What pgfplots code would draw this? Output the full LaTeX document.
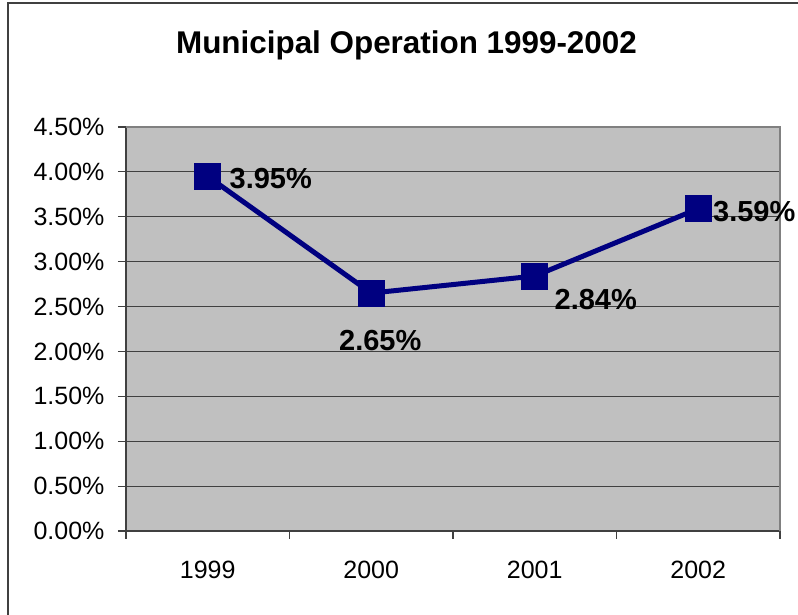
\documentclass[border=0pt]{standalone}
\usepackage{fontspec}
\setmainfont{Liberation Sans}
\usepackage{pgfplots}
\pgfplotsset{compat=1.18}
\usepackage{pgfplotstable}
\definecolor{navy}{HTML}{000080}
\definecolor{plotgray}{HTML}{C0C0C0}

\pgfplotstableread{
x y dx dy
0 3.95 63 -2
1 2.65 9 -47
2 2.84 61 -23
3 3.59 56 -3
}\datatable

\begin{document}
\begin{tikzpicture}[x=1pt,y=1pt]
\path[use as bounding box] (0,0) rectangle (798,615);
\draw[line width=2pt, black!75] (8,-5) -- (8,612) -- (805,612);
\node[anchor=base, font=\bfseries\fontsize{31.4}{36}\selectfont] at (406.5,561) {Municipal Operation 1999-2002};
\begin{axis}[
  at={(126pt,84pt)}, anchor=south west,
  scale only axis, width=654pt, height=404pt,
  xmin=-0.5, xmax=3.5, ymin=0, ymax=4.5,
  clip=false,
  axis background/.style={fill=plotgray},
  axis x line*=bottom, axis y line*=left,
  axis line style={black!75, line width=1.5pt},
  xtick={0,1,2,3}, xticklabels={1999,2000,2001,2002},
  minor xtick={-0.5,0.5,1.5,2.5,3.5},
  major x tick style={draw=none},
  minor tick length=8pt, major tick length=8pt,
  tick align=outside,
  tick style={black!75, line width=1.2pt},
  ytick={0,0.5,1,1.5,2,2.5,3,3.5,4,4.5},
  yticklabel={\pgfmathprintnumber[fixed,fixed zerofill,precision=2]{\tick}\%},
  /pgf/number format/assume math mode=true,
  ticklabel style={font=\fontsize{25}{30}\selectfont, text=black},
  xticklabel style={yshift=-19pt},
  yticklabel style={xshift=-10pt},
  ymajorgrids,
  major grid style={black!75, line width=1.2pt},
]
\draw[line width=2pt, black!50] (rel axis cs:0,1) -- (rel axis cs:1,1) -- (rel axis cs:1,0);
\addplot[navy, line width=5pt, mark=square*, mark size=13pt,
  mark options={fill=navy, draw=navy, line width=0pt},
  point meta=y,
  visualization depends on={\thisrow{dx} \as \dx},
  visualization depends on={\thisrow{dy} \as \dy},
  nodes near coords={\pgfmathprintnumber[fixed,fixed zerofill,precision=2]{\pgfplotspointmeta}\%},
  every node near coord/.append style={anchor=center, xshift=\dx, yshift=\dy,
    font=\bfseries\fontsize{29}{34}\selectfont, text=black},
] table[x=x, y=y] {\datatable};
\end{axis}
\end{tikzpicture}
\end{document}
